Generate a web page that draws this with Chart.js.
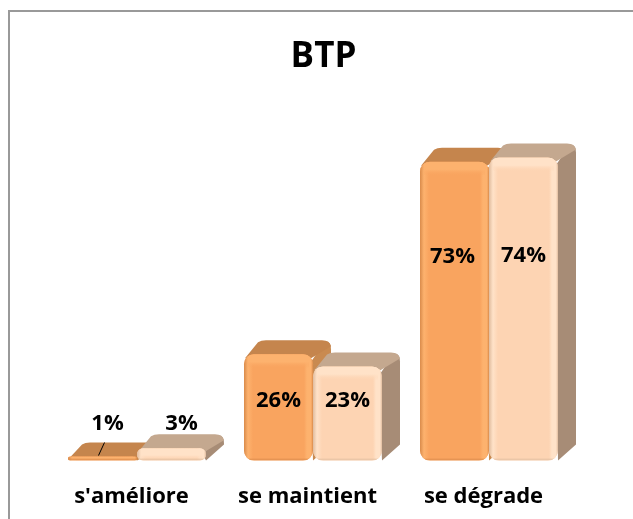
<!DOCTYPE html>
<html><head><meta charset="utf-8">
<style>
html,body{margin:0;padding:0;background:#fff;overflow:hidden}
#top{position:absolute;left:8px;right:0;top:10px;height:2px;background:#999}
#left{position:absolute;left:8px;top:10px;bottom:0;width:2px;background:#999}
canvas{position:absolute;left:0;top:0}
</style>
<script src="https://cdn.jsdelivr.net/npm/chart.js@4"></script>
</head><body>
<canvas id="c" width="633" height="519"></canvas>
<div id="top"></div><div id="left"></div>
<script>
const categories = ["s'améliore", "se maintient", "se dégrade"];
const seriesA = [1, 26, 73];
const seriesB = [3, 23, 74];
const labelHeightA = [9.1, 14.5, 49.9];
const labelHeightB = [9.1, 14.5, 50.1];
const titleText = "BTP";

const FONT = '"Open Sans", sans-serif';
const DX = 18, DY = 14;
const palettes = [
  {front:'#F9A45F', edge:'#FDB26E', dark:'#D98B4B', top:'#C5854D', side:'#C98A50'},
  {front:'#FDD4B3', edge:'#FFE2C8', dark:'#E0BC9E', top:'#C4A88F', side:'#A78C76'}
];
const extrude = {
  id:'extrude',
  beforeDatasetsDraw(chart){
    const ctx=chart.ctx;
    chart.data.datasets.forEach((ds,di)=>{
      const p=palettes[di];
      chart.getDatasetMeta(di).data.forEach(b=>{
        const l=b.x-b.width/2,r=b.x+b.width/2,t=b.y,base=b.base;
        const h=base-t;
        const rad=Math.min(9,h/2), c=Math.min(4,h/2);
        ctx.save();
        ctx.fillStyle=p.side;
        ctx.beginPath();
        ctx.moveTo(r-3,t+rad);ctx.lineTo(r+DX-6,t-DY+1);
        ctx.quadraticCurveTo(r+DX,t-DY+1,r+DX,t-DY+9);
        ctx.lineTo(r+DX,Math.max(base-DY-2,t-DY+9));
        ctx.lineTo(r,base);ctx.closePath();ctx.fill();
        ctx.fillStyle=p.top;
        ctx.beginPath();
        ctx.moveTo(l+1,t+c);ctx.lineTo(l+DX-4,t-DY+2);
        ctx.quadraticCurveTo(l+DX-1,t-DY,l+DX+4,t-DY);
        ctx.lineTo(r+DX-9,t-DY);
        ctx.quadraticCurveTo(r+DX-1,t-DY,r+DX,t-DY+6);
        ctx.lineTo(r-2,t+c);ctx.closePath();ctx.fill();
        ctx.restore();
      });
    });
  },
  afterDatasetsDraw(chart){
    const ctx=chart.ctx;
    chart.data.datasets.forEach((ds,di)=>{
      const p=palettes[di];
      chart.getDatasetMeta(di).data.forEach(b=>{
        const l=b.x-b.width/2,w=b.width,t=b.y,h=b.base-b.y;
        const e=Math.min(7,h/2);
        ctx.save();
        ctx.beginPath();ctx.roundRect(l,t,w,h,Math.min(10,h/2));ctx.clip();
        let g=ctx.createLinearGradient(l,0,l+w,0);
        const n=w;
        g.addColorStop(0,p.dark);g.addColorStop(4/n,p.edge);g.addColorStop(9/n,p.front);
        g.addColorStop(1-9/n,p.front);g.addColorStop(1-6/n,p.edge);g.addColorStop(1-2/n,p.edge);g.addColorStop(1,p.dark);
        ctx.fillStyle=g;ctx.fillRect(l,t,w,h);
        g=ctx.createLinearGradient(0,t,0,t+e*2);
        g.addColorStop(0,p.edge);g.addColorStop(0.55,p.edge);g.addColorStop(1,p.front+'00');
        ctx.fillStyle=g;ctx.fillRect(l+4,t,w-8,e*2);
        ctx.fillStyle=p.dark;ctx.globalAlpha=.6;ctx.fillRect(l,t+h-2,w,2);
        ctx.restore();
      });
    });
  }
};
const labels = {
  id:'labels',
  afterDraw(chart){
    const ctx=chart.ctx,yS=chart.scales.y;
    ctx.save();
    ctx.fillStyle='#000';ctx.textAlign='center';ctx.textBaseline='middle';
    ctx.font='bold 35px '+FONT;
    ctx.fillText(titleText,323.5,57);
    ctx.font='bold 22px '+FONT;
    [[seriesA,labelHeightA],[seriesB,labelHeightB]].forEach(([vals,hs],di)=>{
      const m=chart.getDatasetMeta(di).data;
      vals.forEach((v,i)=>{
        const shift = i===0 ? (di===0?5:10) : i===1 ? 0 : (di===0?-2:0);
        ctx.fillText(v+'%',m[i].x+shift,yS.getPixelForValue(hs[i]));
      });
    });
    const b=chart.getDatasetMeta(0).data[0];
    ctx.strokeStyle='#000';ctx.lineWidth=1;
    ctx.beginPath();ctx.moveTo(b.x+2,b.y-14);ctx.lineTo(b.x-4,b.y-1);ctx.stroke();
    ctx.restore();
  }
};
new Chart(document.getElementById('c'),{
  type:'bar',
  data:{labels:categories,datasets:[
    {data:seriesA,backgroundColor:palettes[0].front,borderRadius:10,borderSkipped:false},
    {data:seriesB,backgroundColor:palettes[1].front,borderRadius:10,borderSkipped:false}
  ]},
  plugins:[extrude,labels],
  options:{
    responsive:false,animation:false,
    categoryPercentage:0.784,barPercentage:1,
    layout:{padding:{left:49,right:56,top:133,bottom:-6}},
    plugins:{legend:{display:false},tooltip:{enabled:false},title:{display:false}},
    scales:{
      x:{grid:{display:false},border:{display:false},
        ticks:{color:'#000',padding:15,labelOffset:-5.5,maxRotation:0,font:{family:FONT,size:22,weight:'bold'}}},
      y:{display:false,min:0,max:80}
    }
  }
});
</script>
</body></html>
